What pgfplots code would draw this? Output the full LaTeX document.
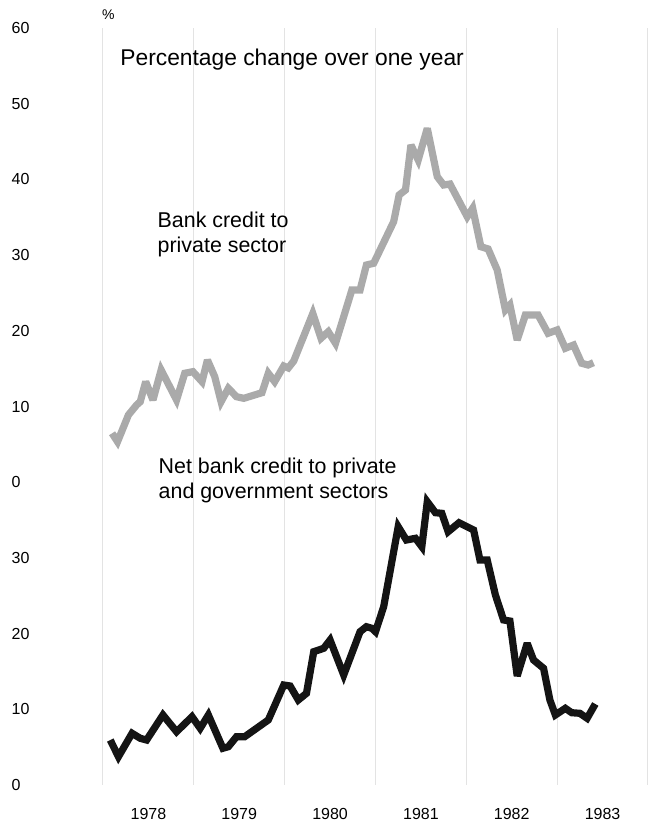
\documentclass[border=0pt]{standalone}
\usepackage{pgfplots}
\usepackage{pgfplotstable}
\pgfplotsset{compat=1.18}
\usepackage{fontspec}
\setmainfont{Liberation Sans}
\definecolor{lightline}{RGB}{170,170,170}
\definecolor{darkline}{RGB}{20,20,20}

\pgfplotstableread{
x v
1978.10 6.46
1978.16 5.35
1978.28 8.88
1978.37 10.20
1978.41 10.63
1978.47 13.28
1978.55 10.86
1978.64 14.82
1978.81 10.86
1978.90 14.39
1978.99 14.60
1979.09 13.28
1979.15 16.14
1979.23 13.94
1979.30 10.63
1979.38 12.40
1979.47 11.29
1979.55 11.08
1979.75 11.82
1979.82 14.39
1979.89 13.28
1979.99 15.35
1980.04 15.09
1980.10 16.01
1980.31 22.29
1980.40 19.01
1980.48 19.88
1980.56 18.35
1980.74 25.39
1980.83 25.39
1980.90 28.69
1980.98 28.92
1981.20 34.41
1981.26 37.94
1981.33 38.60
1981.39 44.54
1981.47 42.56
1981.57 46.75
1981.68 40.36
1981.75 39.26
1981.82 39.39
1982.01 35.07
1982.07 36.18
1982.16 31.11
1982.24 30.81
1982.34 28.03
1982.43 22.75
1982.48 23.41
1982.56 18.78
1982.65 22.09
1982.79 22.09
1982.90 19.67
1983.00 20.11
1983.09 17.69
1983.18 18.12
1983.27 15.71
1983.34 15.48
1983.40 15.79
}\privatedata

\pgfplotstableread{
x v
1978.08 5.94
1978.17 3.74
1978.32 6.83
1978.41 6.17
1978.48 5.94
1978.66 9.25
1978.81 7.04
1978.98 9.02
1979.07 7.49
1979.16 9.25
1979.32 4.85
1979.38 5.06
1979.47 6.38
1979.56 6.38
1979.82 8.59
1979.99 13.21
1980.06 13.08
1980.15 11.23
1980.24 12.11
1980.32 17.61
1980.43 18.06
1980.50 19.15
1980.65 14.53
1980.83 20.25
1980.90 20.91
1980.96 20.70
1981.00 20.25
1981.09 23.55
1981.25 34.12
1981.34 32.36
1981.44 32.59
1981.51 31.48
1981.57 37.42
1981.66 35.97
1981.73 35.89
1981.80 33.46
1981.92 34.65
1982.08 33.69
1982.15 29.72
1982.23 29.72
1982.32 25.10
1982.41 21.80
1982.48 21.66
1982.56 14.40
1982.67 18.72
1982.74 16.51
1982.85 15.42
1982.92 11.23
1982.98 9.25
1983.09 10.13
1983.16 9.55
1983.25 9.47
1983.33 8.81
1983.42 10.70
}\totaldata

\begin{document}
\begin{tikzpicture}
\begin{axis}[
  name=ax,
  scale only axis,
  width=272.5pt, height=378.5pt,
  xmin=1978, xmax=1984,
  ymin=0, ymax=100,
  axis line style={draw=none},
  tick style={draw=none},
  major tick length=0pt,
  xtick={1978.5,1979.5,1980.5,1981.5,1982.5,1983.5},
  xticklabels={1978,1979,1980,1981,1982,1983},
  minor xtick={1978,1979,1980,1981,1982,1983,1984},
  xminorgrids,
  minor grid style={draw=black!11, line width=0.5pt},
  ytick={0,10,20,30,40,50,60,70,80,90,100},
  yticklabels={0,10,20,30,0,10,20,30,40,50,60},
  /pgf/number format/assume math mode=true,
  xticklabel style={font=\fontsize{8}{9}\selectfont, yshift=-8.3pt},
  yticklabel style={font=\fontsize{8}{9}\selectfont, anchor=west, xshift=-49.2pt},
  clip=false,
]
\addplot[lightline, line width=3.6pt, line join=miter, miter limit=3]
  table[x=x, y expr=\thisrow{v}+40] {\privatedata};
\addplot[darkline, line width=3.6pt, line join=miter, miter limit=3]
  table[x=x, y=v] {\totaldata};

\node[font=\fontsize{7}{8}\selectfont, inner sep=0pt] at (axis cs:1978.06,101.7) {\%};
\node[font=\fontsize{11.4}{13}\selectfont, anchor=base west, inner sep=0pt] at (axis cs:1978.187,95.0) {Percentage change over one year};
\node[font=\fontsize{10.7}{12}\selectfont, anchor=base west, inner sep=0pt] at (axis cs:1978.598,73.67) {Bank credit to};
\node[font=\fontsize{10.7}{12}\selectfont, anchor=base west, inner sep=0pt] at (axis cs:1978.598,70.30) {private sector};
\node[font=\fontsize{10.7}{12}\selectfont, anchor=base west, inner sep=0pt] at (axis cs:1978.609,41.2) {Net bank credit to private};
\node[font=\fontsize{10.7}{12}\selectfont, anchor=base west, inner sep=0pt] at (axis cs:1978.609,37.85) {and government sectors};
\end{axis}
\pgfresetboundingbox
\path[use as bounding box] (ax.south west) ++(-51.5pt,-20pt) rectangle ++(326.5pt,412.5pt);
\end{tikzpicture}
\end{document}
